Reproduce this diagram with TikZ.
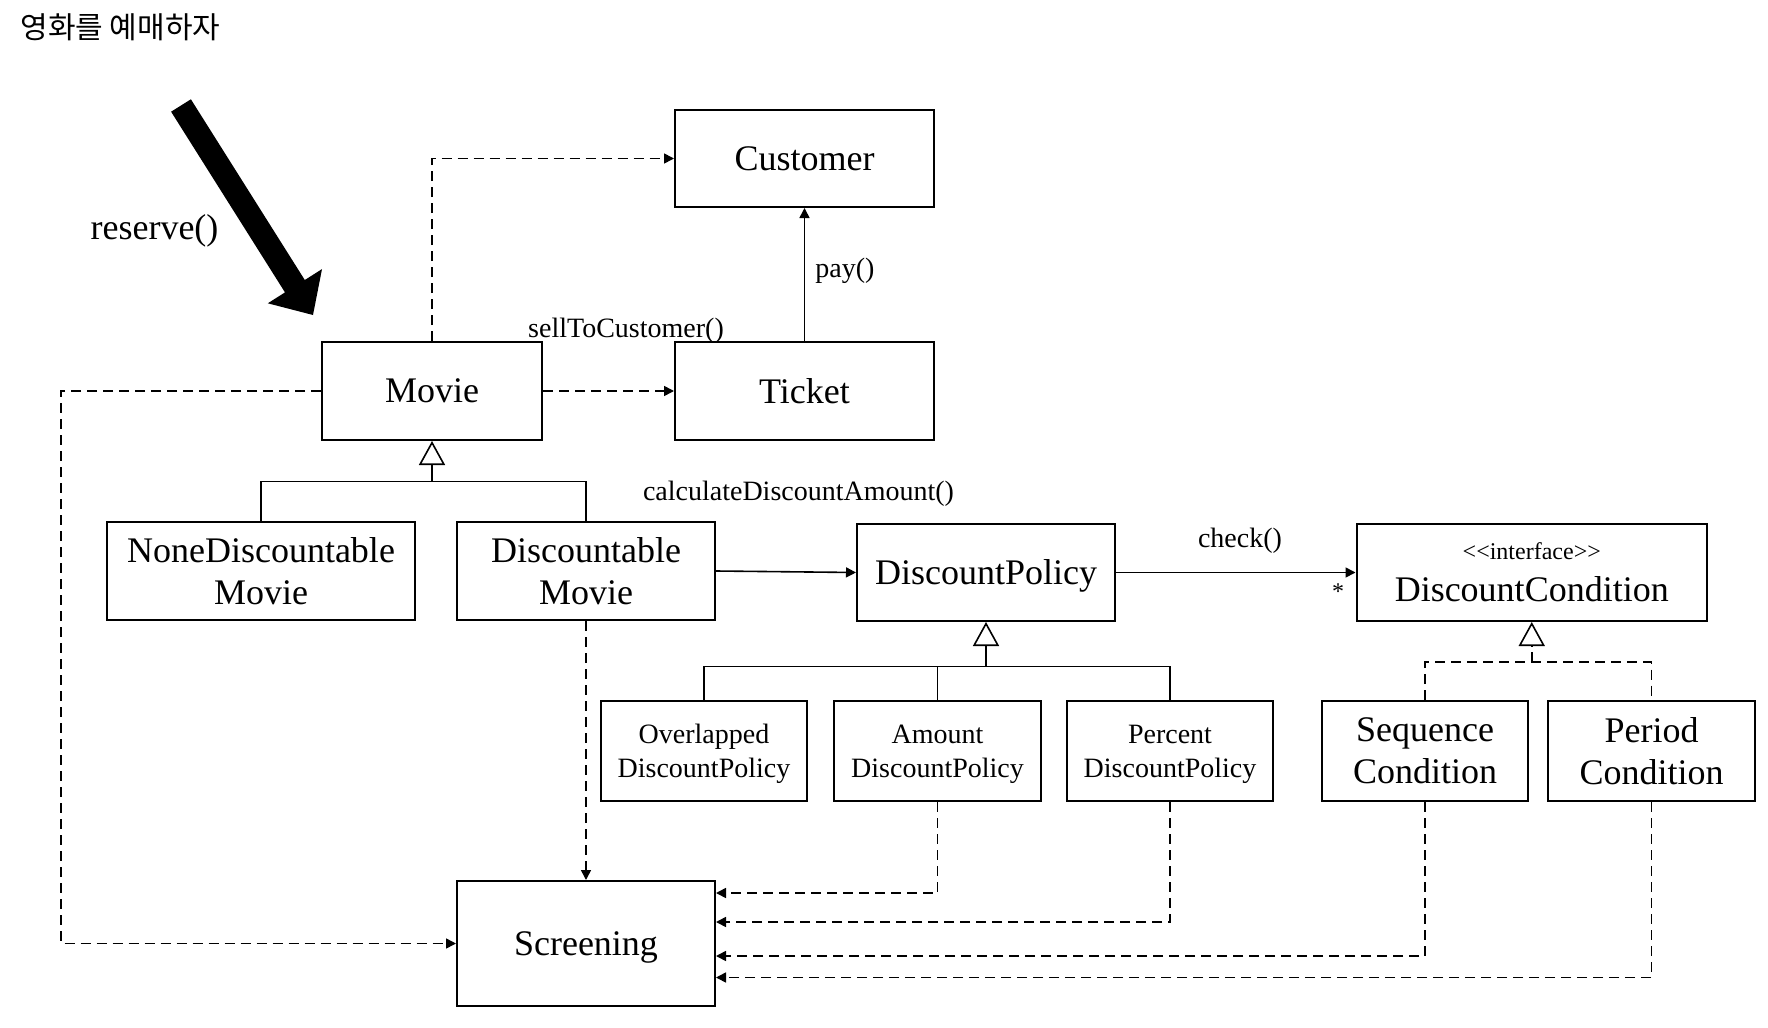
\documentclass[tikz,border=0pt]{standalone}
\usepackage{fontspec}
\setmainfont{Liberation Serif}
\newfontfamily\ifacefont[Ligatures=TeXOff]{Liberation Serif}
\newfontfamily\krfont{Noto Sans CJK KR}
\usetikzlibrary{arrows.meta}
\newcommand\bigf{\fontsize{18}{21}\selectfont}
\newcommand\smallf{\fontsize{14}{17}\selectfont}
\tikzset{
  box/.style={draw, line width=1pt, align=center, inner sep=0pt, text depth=0pt, font=\bigf},
  sbox/.style={box, font=\smallf},
  lbl/.style={inner sep=0pt, font=\smallf},
  conn/.style={line width=0.8pt},
  dep/.style={conn, dash pattern=on 5pt off 3pt, -{Triangle[length=5pt,width=5pt]}},
  assoc/.style={conn, -{Triangle[length=5pt,width=5pt]}},
  inh/.style={conn, -{Triangle[open,length=12pt,width=13pt,fill=white]}},
  real/.style={inh, dash pattern=on 5pt off 3pt},
}
\begin{document}
\begin{tikzpicture}[x=0.5pt,y=-0.5pt]
\useasboundingbox (0,0) rectangle (1768,1028);
% title
\node[anchor=west, inner sep=0pt, font=\krfont\fontsize{15}{18}\selectfont] (title) at (20,27) {영화를 예매하자};
% big arrow
\fill (190.9,99.3) -- (304.8,280.0) -- (322,269.1) -- (313,315) -- (267.8,303.3) -- (285.0,292.4) -- (171.1,111.7) -- cycle;
\node[inner sep=0pt, font=\bigf] (reserve) at (154.5,231) {reserve()};
% boxes
\node[box, minimum width=129.5pt, minimum height=48.5pt] (Cu) at (804.5,158.5) {Customer};
\node[box, minimum width=110pt, minimum height=49pt] (Mo) at (432,391) {Movie};
\node[box, minimum width=129.5pt, minimum height=49pt] (Ti) at (804.5,391) {Ticket};
\node[box, minimum width=154pt, minimum height=49pt] (No) at (261,571) {NoneDiscountable\\Movie};
\node[box, minimum width=129pt, minimum height=49pt] (Dm) at (586,571) {Discountable\\Movie};
\node[box, minimum width=129pt, minimum height=48.5pt] (DP) at (986,572.5) {DiscountPolicy};
\node[box, minimum width=175.25pt, minimum height=48.5pt] (DC) at (1531.75,572.5) {{\ifacefont\fontsize{12}{14}\selectfont <<interface>>}\\DiscountCondition};
\node[sbox, minimum width=103pt, minimum height=50pt] (Ov) at (704,751) {Overlapped\\DiscountPolicy};
\node[sbox, minimum width=103.5pt, minimum height=50pt] (Am) at (937.5,751) {Amount\\DiscountPolicy};
\node[sbox, minimum width=103pt, minimum height=50pt] (Pe) at (1170,751) {Percent\\DiscountPolicy};
\node[box, minimum width=103pt, minimum height=50pt] (Se) at (1425,751) {Sequence\\Condition};
\node[box, minimum width=103.5pt, minimum height=50pt] (Pd) at (1651.5,751) {Period\\Condition};
\node[box, minimum width=129pt, minimum height=62.5pt] (Sc) at (586,943.5) {Screening};
% junction coordinates
\coordinate (mj) at (432,481.5);
\coordinate (pj) at (986,666.4);
\coordinate (cj) at (1531.75,662);
\coordinate (lc) at (61,391);
% connectors
\draw[dep] (Mo.north) |- (Cu.west);
\draw[dep] (Mo.east) -- (Ti.west);
\node[lbl] (sell) at (626,331) {sellToCustomer()};
\draw[assoc] (Ti.north) -- (Cu.south);
\node[lbl, anchor=west] (pay) at (815,271) {pay()};
\draw[dep] (Mo.west) -- (lc) |- (Sc.west);
\draw[conn] (No.north) |- (mj) -| (Dm.north);
\draw[inh] (mj) -- (Mo.south);
\draw[assoc] (Dm.east) -- (DP.west);
\node[lbl] (calc) at (798.5,494) {calculateDiscountAmount()};
\draw[assoc] (DP.east) -- (DC.west);
\node[lbl] (check) at (1240,541) {check()};
\node[inner sep=0pt, font=\fontsize{12}{14}\selectfont] (star) at (1338,592) {*};
\draw[conn] (Ov.north) |- (pj) -| (Pe.north);
\draw[conn] (Am.north) -- (Am.north |- pj);
\draw[inh] (pj) -- (DP.south);
\draw[conn, dash pattern=on 5pt off 3pt] (Se.north) |- (cj) -| (Pd.north);
\draw[real] (cj) -- (DC.south);
\draw[dep] (Dm.south) -- (Sc.north);
\draw[dep] (Am.south) |- ([yshift=25.25pt]Sc.east);
\draw[dep] (Pe.south) |- ([yshift=10.75pt]Sc.east);
\draw[dep] (Se.south) |- ([yshift=-6.25pt]Sc.east);
\draw[dep] (Pd.south) |- ([yshift=-17pt]Sc.east);
\end{tikzpicture}
\end{document}
